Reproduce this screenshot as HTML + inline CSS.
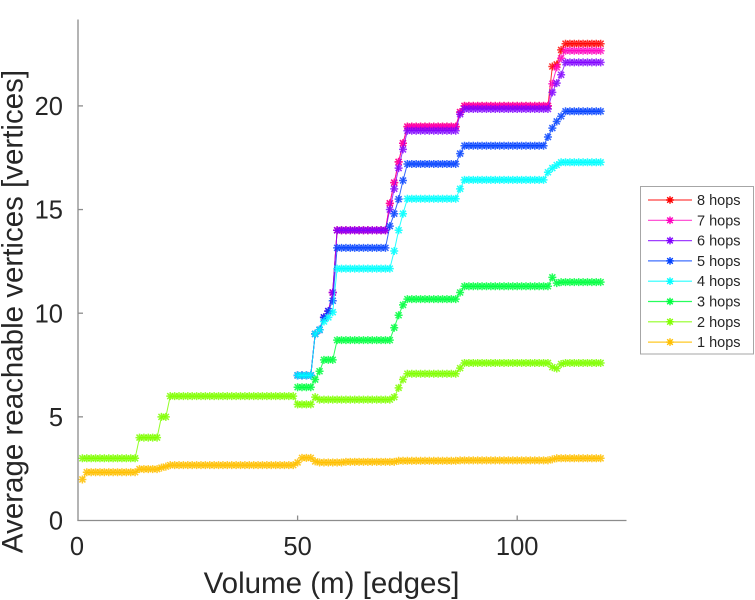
<!DOCTYPE html>
<html>
<head>
<meta charset="utf-8">
<style>
html,body{margin:0;padding:0;background:#fff;}
svg{display:block;}
text{font-family:"Liberation Sans",Arial,sans-serif;}
</style>
</head>
<body>
<svg width="755" height="600" viewBox="0 0 755 600" xmlns="http://www.w3.org/2000/svg">
<defs>
<marker id="m8" markerUnits="userSpaceOnUse" markerWidth="1" markerHeight="1" refX="0" refY="0" orient="0" overflow="visible" style="overflow:visible"><path transform="scale(0.227687,-0.048239)" d="M-4,0H4M0,-4V4M-3,-3L3,3M-3,3L3,-3" stroke="#ff0000" stroke-opacity="0.8" stroke-width="1.5" fill="none"/></marker>
<marker id="m7" markerUnits="userSpaceOnUse" markerWidth="1" markerHeight="1" refX="0" refY="0" orient="0" overflow="visible" style="overflow:visible"><path transform="scale(0.227687,-0.048239)" d="M-4,0H4M0,-4V4M-3,-3L3,3M-3,3L3,-3" stroke="#ff00bf" stroke-opacity="0.8" stroke-width="1.5" fill="none"/></marker>
<marker id="m6" markerUnits="userSpaceOnUse" markerWidth="1" markerHeight="1" refX="0" refY="0" orient="0" overflow="visible" style="overflow:visible"><path transform="scale(0.227687,-0.048239)" d="M-4,0H4M0,-4V4M-3,-3L3,3M-3,3L3,-3" stroke="#8000ff" stroke-opacity="0.8" stroke-width="1.5" fill="none"/></marker>
<marker id="m5" markerUnits="userSpaceOnUse" markerWidth="1" markerHeight="1" refX="0" refY="0" orient="0" overflow="visible" style="overflow:visible"><path transform="scale(0.227687,-0.048239)" d="M-4,0H4M0,-4V4M-3,-3L3,3M-3,3L3,-3" stroke="#0040ff" stroke-opacity="0.8" stroke-width="1.5" fill="none"/></marker>
<marker id="m4" markerUnits="userSpaceOnUse" markerWidth="1" markerHeight="1" refX="0" refY="0" orient="0" overflow="visible" style="overflow:visible"><path transform="scale(0.227687,-0.048239)" d="M-4,0H4M0,-4V4M-3,-3L3,3M-3,3L3,-3" stroke="#00ffff" stroke-opacity="0.85" stroke-width="1.5" fill="none"/></marker>
<marker id="m3" markerUnits="userSpaceOnUse" markerWidth="1" markerHeight="1" refX="0" refY="0" orient="0" overflow="visible" style="overflow:visible"><path transform="scale(0.227687,-0.048239)" d="M-4,0H4M0,-4V4M-3,-3L3,3M-3,3L3,-3" stroke="#00ff40" stroke-opacity="0.85" stroke-width="1.5" fill="none"/></marker>
<marker id="m2" markerUnits="userSpaceOnUse" markerWidth="1" markerHeight="1" refX="0" refY="0" orient="0" overflow="visible" style="overflow:visible"><path transform="scale(0.227687,-0.048239)" d="M-4,0H4M0,-4V4M-3,-3L3,3M-3,3L3,-3" stroke="#80ff00" stroke-opacity="0.85" stroke-width="1.5" fill="none"/></marker>
<marker id="m1" markerUnits="userSpaceOnUse" markerWidth="1" markerHeight="1" refX="0" refY="0" orient="0" overflow="visible" style="overflow:visible"><path transform="scale(0.227687,-0.048239)" d="M-4,0H4M0,-4V4M-3,-3L3,3M-3,3L3,-3" stroke="#ffbf00" stroke-opacity="0.85" stroke-width="1.5" fill="none"/></marker>
<path id="ast" d="M-3.8,0H3.8M0,-3.8V3.8M-2.8,-2.8L2.8,2.8M-2.8,2.8L2.8,-2.8" fill="none" stroke-width="1.4"/>
</defs>

<rect x="0" y="0" width="755" height="600" fill="#fff"/>

<!-- data -->
<g transform="matrix(4.392 0 0 -20.73 78 520.5)" fill="none">
<polyline vector-effect="non-scaling-stroke" stroke="#ff0000" stroke-opacity="0.8" stroke-width="1" marker-start="url(#m8)" marker-mid="url(#m8)" marker-end="url(#m8)" points="50,7 51,7 52,7 53,7 54,9 55,9.2 56,9.8 57,10.1 58,11 59,14 60,14 61,14 62,14 63,14 64,14 65,14 66,14 67,14 68,14 69,14 70,14 71,15.3 72,16.3 73,17.3 74,18.2 75,19 76,19 77,19 78,19 79,19 80,19 81,19 82,19 83,19 84,19 85,19 86,19 87,19.7 88,20 89,20 90,20 91,20 92,20 93,20 94,20 95,20 96,20 97,20 98,20 99,20 100,20 101,20 102,20 103,20 104,20 105,20 106,20 107,20 108,21.9 109,22 110,22.7 111,23 112,23 113,23 114,23 115,23 116,23 117,23 118,23 119,23"/>
<polyline vector-effect="non-scaling-stroke" stroke="#ff00bf" stroke-opacity="0.8" stroke-width="1" marker-start="url(#m7)" marker-mid="url(#m7)" marker-end="url(#m7)" points="50,7 51,7 52,7 53,7 54,9 55,9.2 56,9.8 57,10.1 58,11 59,14 60,14 61,14 62,14 63,14 64,14 65,14 66,14 67,14 68,14 69,14 70,14 71,15.3 72,16.3 73,17.3 74,18.2 75,19 76,19 77,19 78,19 79,19 80,19 81,19 82,19 83,19 84,19 85,19 86,19 87,19.7 88,20 89,20 90,20 91,20 92,20 93,20 94,20 95,20 96,20 97,20 98,20 99,20 100,20 101,20 102,20 103,20 104,20 105,20 106,20 107,20 108,21.07 109,21.86 110,22.3 111,22.66 112,22.66 113,22.66 114,22.66 115,22.66 116,22.66 117,22.66 118,22.66 119,22.66"/>
<polyline vector-effect="non-scaling-stroke" stroke="#8000ff" stroke-opacity="0.8" stroke-width="1" marker-start="url(#m6)" marker-mid="url(#m6)" marker-end="url(#m6)" points="50,7 51,7 52,7 53,7 54,9 55,9.2 56,9.8 57,10.1 58,11 59,14 60,14 61,14 62,14 63,14 64,14 65,14 66,14 67,14 68,14 69,14 70,14 71,15 72,16 73,17 74,17.9 75,18.8 76,18.8 77,18.8 78,18.8 79,18.8 80,18.8 81,18.8 82,18.8 83,18.8 84,18.8 85,18.8 86,18.8 87,19.6 88,19.85 89,19.85 90,19.85 91,19.85 92,19.85 93,19.85 94,19.85 95,19.85 96,19.85 97,19.85 98,19.85 99,19.85 100,19.85 101,19.85 102,19.85 103,19.85 104,19.85 105,19.85 106,19.85 107,19.85 108,20.65 109,21.1 110,21.5 111,22.1 112,22.1 113,22.1 114,22.1 115,22.1 116,22.1 117,22.1 118,22.1 119,22.1"/>
<polyline vector-effect="non-scaling-stroke" stroke="#0040ff" stroke-opacity="0.8" stroke-width="1" marker-start="url(#m5)" marker-mid="url(#m5)" marker-end="url(#m5)" points="50,7 51,7 52,7 53,7 54,9 55,9.2 56,9.8 57,10.1 58,10.6 59,13.15 60,13.15 61,13.15 62,13.15 63,13.15 64,13.15 65,13.15 66,13.15 67,13.15 68,13.15 69,13.15 70,13.15 71,14.2 72,14.8 73,15.5 74,16.4 75,17.2 76,17.2 77,17.2 78,17.2 79,17.2 80,17.2 81,17.2 82,17.2 83,17.2 84,17.2 85,17.2 86,17.2 87,17.7 88,18.08 89,18.08 90,18.08 91,18.08 92,18.08 93,18.08 94,18.08 95,18.08 96,18.08 97,18.08 98,18.08 99,18.08 100,18.08 101,18.08 102,18.08 103,18.08 104,18.08 105,18.08 106,18.08 107,18.5 108,18.93 109,19.25 110,19.5 111,19.74 112,19.74 113,19.74 114,19.74 115,19.74 116,19.74 117,19.74 118,19.74 119,19.74"/>
<polyline vector-effect="non-scaling-stroke" stroke="#00ffff" stroke-opacity="0.85" stroke-width="1" marker-start="url(#m4)" marker-mid="url(#m4)" marker-end="url(#m4)" points="50,7 51,7 52,7 53,7 54,9 55,9.2 56,9.6 57,9.8 58,10.05 59,12.15 60,12.15 61,12.15 62,12.15 63,12.15 64,12.15 65,12.15 66,12.15 67,12.15 68,12.15 69,12.15 70,12.15 71,12.15 72,13 73,14 74,14.8 75,15.52 76,15.52 77,15.52 78,15.52 79,15.52 80,15.52 81,15.52 82,15.52 83,15.52 84,15.52 85,15.52 86,15.52 87,16 88,16.43 89,16.43 90,16.43 91,16.43 92,16.43 93,16.43 94,16.43 95,16.43 96,16.43 97,16.43 98,16.43 99,16.43 100,16.43 101,16.43 102,16.43 103,16.43 104,16.43 105,16.43 106,16.43 107,16.8 108,17 109,17.15 110,17.28 111,17.28 112,17.28 113,17.28 114,17.28 115,17.28 116,17.28 117,17.28 118,17.28 119,17.28"/>
<polyline vector-effect="non-scaling-stroke" stroke="#00ff40" stroke-opacity="0.85" stroke-width="1" marker-start="url(#m3)" marker-mid="url(#m3)" marker-end="url(#m3)" points="50,6.43 51,6.43 52,6.43 53,6.43 54,6.8 55,7.2 56,7.75 57,7.75 58,7.75 59,8.7 60,8.7 61,8.7 62,8.7 63,8.7 64,8.7 65,8.7 66,8.7 67,8.7 68,8.7 69,8.7 70,8.7 71,8.7 72,9.3 73,9.9 74,10.4 75,10.68 76,10.68 77,10.68 78,10.68 79,10.68 80,10.68 81,10.68 82,10.68 83,10.68 84,10.68 85,10.68 86,10.68 87,11 88,11.3 89,11.3 90,11.3 91,11.3 92,11.3 93,11.3 94,11.3 95,11.3 96,11.3 97,11.3 98,11.3 99,11.3 100,11.3 101,11.3 102,11.3 103,11.3 104,11.3 105,11.3 106,11.3 107,11.3 108,11.73 109,11.45 110,11.5 111,11.5 112,11.5 113,11.5 114,11.5 115,11.5 116,11.5 117,11.5 118,11.5 119,11.5"/>
<polyline vector-effect="non-scaling-stroke" stroke="#80ff00" stroke-opacity="0.85" stroke-width="1" marker-start="url(#m2)" marker-mid="url(#m2)" marker-end="url(#m2)" points="1,3 2,3 3,3 4,3 5,3 6,3 7,3 8,3 9,3 10,3 11,3 12,3 13,3 14,4 15,4 16,4 17,4 18,4 19,5 20,5 21,6 22,6 23,6 24,6 25,6 26,6 27,6 28,6 29,6 30,6 31,6 32,6 33,6 34,6 35,6 36,6 37,6 38,6 39,6 40,6 41,6 42,6 43,6 44,6 45,6 46,6 47,6 48,6 49,6 50,5.6 51,5.6 52,5.6 53,5.6 54,5.95 55,5.83 56,5.83 57,5.83 58,5.83 59,5.83 60,5.83 61,5.83 62,5.83 63,5.83 64,5.83 65,5.83 66,5.83 67,5.83 68,5.83 69,5.83 70,5.83 71,5.83 72,5.95 73,6.4 74,6.8 75,7.08 76,7.08 77,7.08 78,7.08 79,7.08 80,7.08 81,7.08 82,7.08 83,7.08 84,7.08 85,7.08 86,7.08 87,7.35 88,7.6 89,7.6 90,7.6 91,7.6 92,7.6 93,7.6 94,7.6 95,7.6 96,7.6 97,7.6 98,7.6 99,7.6 100,7.6 101,7.6 102,7.6 103,7.6 104,7.6 105,7.6 106,7.6 107,7.6 108,7.4 109,7.33 110,7.55 111,7.6 112,7.6 113,7.6 114,7.6 115,7.6 116,7.6 117,7.6 118,7.6 119,7.6"/>
<polyline vector-effect="non-scaling-stroke" stroke="#ffbf00" stroke-opacity="0.85" stroke-width="1" marker-start="url(#m1)" marker-mid="url(#m1)" marker-end="url(#m1)" points="1,1.98 2,2.33 3,2.33 4,2.33 5,2.33 6,2.33 7,2.33 8,2.33 9,2.33 10,2.33 11,2.33 12,2.33 13,2.33 14,2.48 15,2.48 16,2.48 17,2.48 18,2.48 19,2.55 20,2.6 21,2.67 22,2.67 23,2.67 24,2.67 25,2.67 26,2.67 27,2.67 28,2.67 29,2.67 30,2.67 31,2.67 32,2.67 33,2.67 34,2.67 35,2.67 36,2.67 37,2.67 38,2.67 39,2.67 40,2.67 41,2.67 42,2.67 43,2.67 44,2.67 45,2.67 46,2.67 47,2.67 48,2.67 49,2.67 50,2.8 51,3.02 52,3.02 53,3.02 54,2.85 55,2.8 56,2.8 57,2.8 58,2.8 59,2.8 60,2.8 61,2.83 62,2.83 63,2.83 64,2.83 65,2.83 66,2.83 67,2.83 68,2.83 69,2.83 70,2.83 71,2.83 72,2.83 73,2.88 74,2.88 75,2.88 76,2.88 77,2.88 78,2.88 79,2.88 80,2.88 81,2.88 82,2.88 83,2.88 84,2.88 85,2.88 86,2.88 87,2.9 88,2.9 89,2.9 90,2.9 91,2.9 92,2.9 93,2.9 94,2.9 95,2.9 96,2.9 97,2.9 98,2.9 99,2.9 100,2.9 101,2.9 102,2.9 103,2.9 104,2.9 105,2.9 106,2.9 107,2.9 108,2.95 109,3 110,3 111,3 112,3 113,3 114,3 115,3 116,3 117,3 118,3 119,3"/>
</g>

<!-- axes -->
<g stroke="#8c8c8c" stroke-width="1.3" fill="none">
<line x1="78" y1="19.5" x2="78" y2="521"/>
<line x1="77.4" y1="520.5" x2="626.5" y2="520.5"/>
<line x1="78" y1="416.85" x2="83" y2="416.85"/>
<line x1="78" y1="313.2" x2="83" y2="313.2"/>
<line x1="78" y1="209.55" x2="83" y2="209.55"/>
<line x1="78" y1="105.9" x2="83" y2="105.9"/>
<line x1="297.6" y1="520.5" x2="297.6" y2="515.5"/>
<line x1="517.2" y1="520.5" x2="517.2" y2="515.5"/>
</g>

<g fill="#262626" font-size="25.5">
<text x="63" y="529.7" text-anchor="end">0</text>
<text x="63" y="426" text-anchor="end">5</text>
<text x="63" y="322.4" text-anchor="end">10</text>
<text x="63" y="218.7" text-anchor="end">15</text>
<text x="63" y="115.1" text-anchor="end">20</text>
<text x="77" y="555" text-anchor="middle">0</text>
<text x="297.6" y="555" text-anchor="middle">50</text>
<text x="517.2" y="555" text-anchor="middle">100</text>
</g>

<text x="331.5" y="593" text-anchor="middle" font-size="29.5" fill="#262626">Volume (m) [edges]</text>
<text transform="translate(22.5,311.5) rotate(-90)" text-anchor="middle" font-size="29.5" fill="#262626">Average reachable vertices [vertices]</text>

<!-- legend -->
<rect x="640.5" y="186.5" width="113" height="167.5" fill="#fff" stroke="#a6a6a6" stroke-width="1"/>
<g stroke-width="1.2">
<line x1="648" y1="200" x2="692" y2="200" stroke="#ff0000" stroke-opacity="0.75"/>
<use href="#ast" x="670" y="200" stroke="#ff0000"/>
<line x1="648" y1="220.3" x2="692" y2="220.3" stroke="#ff00bf" stroke-opacity="0.75"/>
<use href="#ast" x="670" y="220.3" stroke="#ff00bf"/>
<line x1="648" y1="240.6" x2="692" y2="240.6" stroke="#8000ff" stroke-opacity="0.75"/>
<use href="#ast" x="670" y="240.6" stroke="#8000ff"/>
<line x1="648" y1="260.9" x2="692" y2="260.9" stroke="#0040ff" stroke-opacity="0.75"/>
<use href="#ast" x="670" y="260.9" stroke="#0040ff"/>
<line x1="648" y1="281.2" x2="692" y2="281.2" stroke="#00ffff" stroke-opacity="0.85"/>
<use href="#ast" x="670" y="281.2" stroke="#00ffff"/>
<line x1="648" y1="301.5" x2="692" y2="301.5" stroke="#00ff40" stroke-opacity="0.85"/>
<use href="#ast" x="670" y="301.5" stroke="#00ff40"/>
<line x1="648" y1="321.8" x2="692" y2="321.8" stroke="#80ff00" stroke-opacity="0.85"/>
<use href="#ast" x="670" y="321.8" stroke="#80ff00"/>
<line x1="648" y1="342.1" x2="692" y2="342.1" stroke="#ffbf00" stroke-opacity="0.85"/>
<use href="#ast" x="670" y="342.1" stroke="#ffbf00"/>
</g>
<g fill="#262626" font-size="14.5">
<text x="697" y="205">8 hops</text>
<text x="697" y="225.3">7 hops</text>
<text x="697" y="245.6">6 hops</text>
<text x="697" y="265.9">5 hops</text>
<text x="697" y="286.2">4 hops</text>
<text x="697" y="306.5">3 hops</text>
<text x="697" y="326.8">2 hops</text>
<text x="697" y="347.1">1 hops</text>
</g>
</svg>
</body>
</html>
